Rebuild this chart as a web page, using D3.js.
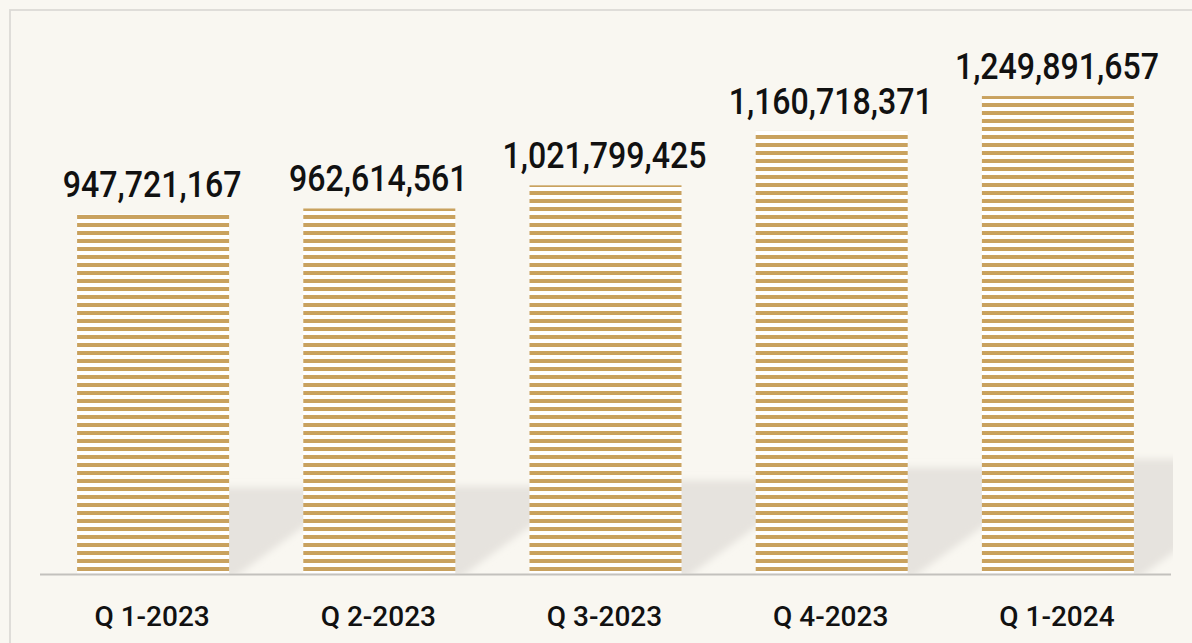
<!DOCTYPE html>
<meta charset="utf-8">
<script src="https://d3js.org/d3.v7.min.js"></script>
<style>
    body { margin: 0; background: #f9f7f1; }
    svg { display: block; }
</style>

<body>
    <div id="chart"></div>
</body>
<script>

    // data
    var quarters = ["Q 1-2023", "Q 2-2023", "Q 3-2023", "Q 4-2023", "Q 1-2024"];
    var totals = [947721167, 962614561, 1021799425, 1160718371, 1249891657];

    var width = 1192,
        height = 643,
        base = 573.5;

    var svg = d3.select("#chart")
        .append("svg")
        .attr("width", width)
        .attr("height", height)

    var defs = svg.append("defs");

    // striped fill, one pattern for the whole chart
    var pat = defs.append("pattern")
        .attr("id", "stripes")
        .attr("patternUnits", "userSpaceOnUse")
        .attr("x", 0).attr("y", 7)
        .attr("width", 8).attr("height", 8);
    pat.append("rect").attr("width", 8).attr("height", 8).attr("fill", "#ffffff");
    pat.append("rect").attr("width", 8).attr("height", 4).attr("fill", "#c9a25f");

    defs.append("filter")
        .attr("id", "soft")
        .attr("x", "-20%").attr("y", "-20%").attr("width", "140%").attr("height", "140%")
        .append("feGaussianBlur").attr("stdDeviation", 3.5);

    defs.append("clipPath").attr("id", "plotclip")
        .append("rect").attr("x", 40).attr("y", 0).attr("width", 1133).attr("height", base);

    // frame
    svg.append("rect")
        .attr("x", 10).attr("y", 10)
        .attr("width", width + 20).attr("height", height + 20)
        .attr("fill", "none")
        .attr("stroke", "#dcdad6")
        .attr("stroke-width", 1.8);

    var x = d3.scaleBand()
        .domain(quarters)
        .range([40, 1171])
        .paddingInner(0.328)
        .paddingOuter(0.164);

    var y = d3.scaleLinear()
        .domain([30e6, 1250e6])
        .range([base, 96]);

    var rows = quarters.map(function (q, i) { return { q: q, v: totals[i] }; });

    // cast shadows behind the bars
    svg.append("g")
        .attr("clip-path", "url(#plotclip)")
        .selectAll("path")
        .data(rows)
        .enter()
        .append("path")
        .attr("fill", "#e6e3de")
        .attr("filter", "url(#soft)")
        .attr("d", function (d) {
            var xr = x(d.q) + x.bandwidth();
            var sTop = base - 0.24 * (base - y(d.v));
            var reach = (base - sTop) / 0.7;
            return "M" + (xr - 30) + "," + (base + 4) +
                "L" + (xr - 30) + "," + sTop +
                "L" + (xr + 5 + reach) + "," + sTop +
                "L" + (xr + 5) + "," + (base + 4) + "Z";
        });

    svg.append("g")
        .selectAll("rect")
        .data(rows)
        .enter()
        .append("rect")
        .attr("x", function (d) { return x(d.q) })
        .attr("y", function (d) { return y(d.v) })
        .attr("width", x.bandwidth())
        .attr("height", function (d) { return base - y(d.v) })
        .attr("fill", "url(#stripes)");

    // baseline
    svg.append("line")
        .attr("x1", 40).attr("x2", 1171)
        .attr("y1", base + 1).attr("y2", base + 1)
        .attr("stroke", "#c3c1bd")
        .attr("stroke-width", 2);

    // value labels
    svg.append("g")
        .selectAll("text")
        .data(rows)
        .enter()
        .append("text")
        .attr("transform", function (d) {
            return "translate(" + (x(d.q) + x.bandwidth() / 2 - 1) + "," + (y(d.v) - 17) + ") scale(0.88,1)";
        })
        .attr("text-anchor", "middle")
        .style("font-family", "Roboto, 'DejaVu Sans', sans-serif")
        .style("font-weight", 500)
        .style("font-size", "36.5px")
        .style("fill", "#111")
        .text(function (d) { return d3.format(",")(d.v) });

    // category labels
    svg.append("g")
        .selectAll("text")
        .data(quarters)
        .enter()
        .append("text")
        .attr("x", function (d) { return x(d) + x.bandwidth() / 2 - 1 })
        .attr("y", 626)
        .attr("text-anchor", "middle")
        .style("font-family", "Roboto, 'DejaVu Sans', sans-serif")
        .style("font-weight", 500)
        .style("font-size", "28px")
        .style("fill", "#111")
        .text(function (d) { return d });
</script>
